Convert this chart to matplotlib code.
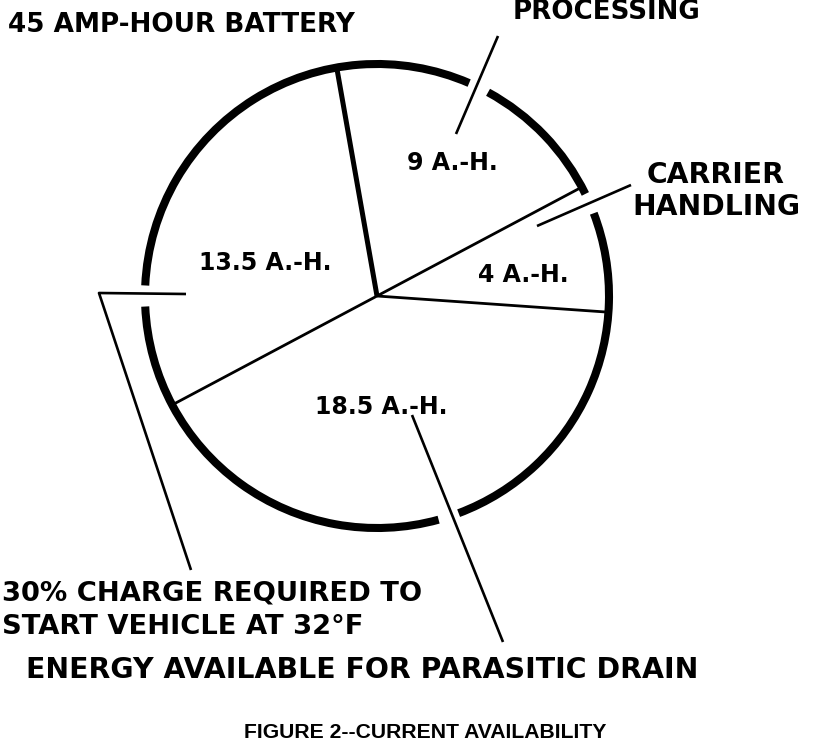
import matplotlib
matplotlib.use("Agg")
import matplotlib.pyplot as plt
from matplotlib.patches import Arc
import numpy as np

# ---- data ----
categories = ["PROCESSING", "CARRIER HANDLING", "ENERGY AVAILABLE FOR PARASITIC DRAIN",
              "30% CHARGE REQUIRED TO START VEHICLE AT 32\u00b0F"]
amp_hours = [9, 4, 18.5, 13.5]
slice_labels = ["9 A.-H.", "4 A.-H.", "18.5 A.-H.", "13.5 A.-H."]
title_text = "45 AMP-HOUR BATTERY"
caption = "FIGURE 2--CURRENT AVAILABILITY"

W, H = 816, 742
fig = plt.figure(figsize=(W / 100, H / 100), dpi=100)
ax = fig.add_axes([0, 0, 1, 1])

def Y(y):
    return H - y

cx, cy, R = 377, 296, 232
START = 100
wedges, _ = ax.pie(amp_hours, startangle=START, counterclock=False,
                   center=(cx, Y(cy)), radius=R,
                   wedgeprops=dict(facecolor="white", edgecolor="none", linewidth=0))
ax.set_xlim(0, W)
ax.set_ylim(0, H)
ax.set_aspect("equal")
ax.axis("off")

# separators from wedge boundaries
bounds = []
for w in wedges:
    for t in (w.theta1, w.theta2):
        t = t % 360
        if not any(abs(((t - b + 180) % 360) - 180) < 1e-6 for b in bounds):
            bounds.append(t)
for t in bounds:
    lw = 3.6 if abs(((t - START + 180) % 360) - 180) < 1e-6 else 2.0
    ax.plot([cx, cx + R * np.cos(np.radians(t))], [Y(cy), Y(cy) + R * np.sin(np.radians(t))],
            color="black", lw=lw, solid_capstyle="butt", zorder=3)

# thick outline with gaps where leaders cross
gap_centers = [23.5, 64.0, 180.0, 288.0]
half = 2.6
g = sorted(gap_centers)
for i in range(len(g)):
    t1 = g[i] + half
    t2 = g[(i + 1) % len(g)] - half
    if t2 < t1:
        t2 += 360
    ax.add_patch(Arc((cx, Y(cy)), 2 * R, 2 * R, theta1=t1, theta2=t2,
                     color="black", lw=5.8, zorder=4))

# leader lines
leaders = [
    [(498, 36), (456, 134)],
    [(631, 185), (537, 226)],
    [(186, 294), (99, 293), (191, 570)],
    [(412, 415), (503, 642)],
]
for seg in leaders:
    xs = [p[0] for p in seg]
    ys = [Y(p[1]) for p in seg]
    ax.plot(xs, ys, color="black", lw=1.9, solid_capstyle="butt", zorder=5)

font = dict(family=["DejaVu Sans"], weight="bold", color="black")
# slice labels
label_pos = [(452, 163), (523, 275), (381, 407), (265, 263)]
for lab, (x, y) in zip(slice_labels, label_pos):
    ax.text(x, Y(y), lab, ha="center", va="center", fontsize=17, **font, zorder=6)

ax.text(8, Y(32), title_text, ha="left", va="baseline", fontsize=18.9, **font)
ax.text(513, Y(19), categories[0], ha="left", va="baseline", fontsize=18.8, **font)
ax.text(716, Y(183), "CARRIER", ha="center", va="baseline", fontsize=20.3, **font)
ax.text(716, Y(215), "HANDLING", ha="center", va="baseline", fontsize=20.3, **font)
ax.text(2, Y(600), "30% CHARGE REQUIRED TO", ha="left", va="baseline", fontsize=19.7, **font)
ax.text(2, Y(634), "START VEHICLE AT 32\u00b0F", ha="left", va="baseline", fontsize=19.7, **font)
ax.text(362, Y(678), categories[2], ha="center", va="baseline", fontsize=20.4, **font)
ax.text(425, Y(738), caption, ha="center", va="baseline", fontsize=15.2,
        family=["Liberation Sans"], weight="bold", color="black")

fig.savefig("out.png", dpi=100, facecolor="white")
